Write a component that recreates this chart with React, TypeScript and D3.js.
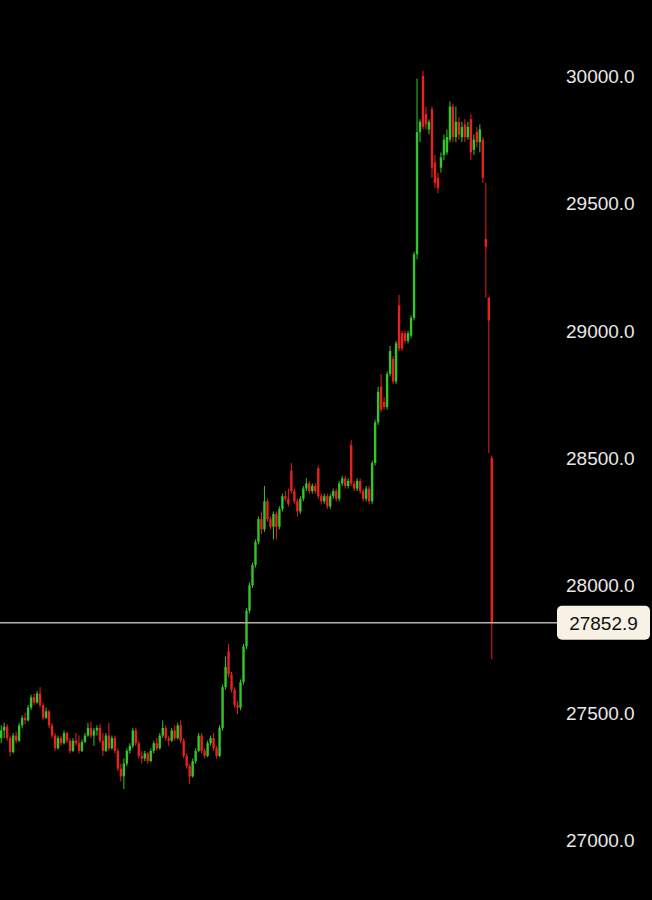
import React from "react";
import * as d3 from "d3";

// Candle data (oldest → newest)
const opens = [
  27400, 27430, 27445, 27400, 27345, 27410, 27390, 27450, 27480, 27470,
  27520, 27560, 27540, 27575, 27530, 27480, 27505, 27450, 27410, 27360,
  27400, 27380, 27420, 27390, 27350, 27390, 27380, 27350, 27385, 27410,
  27440, 27410, 27430, 27440, 27390, 27350, 27410, 27360, 27400, 27350,
  27280, 27250, 27300, 27350, 27370, 27430, 27380, 27330, 27320, 27340,
  27310, 27350, 27380, 27360, 27410, 27440, 27400, 27390, 27430, 27400,
  27450, 27390, 27330, 27290, 27250, 27310, 27350, 27410, 27350, 27330,
  27380, 27400, 27360, 27330, 27440, 27600, 27740, 27650, 27590, 27530,
  27520, 27620, 27760, 27900, 28000, 28080, 28170, 28260, 28220, 28330,
  28260, 28230, 28280, 28230, 28300, 28350, 28340, 28450, 28370, 28330,
  28290, 28340, 28380, 28400, 28370, 28390, 28460, 28350, 28330, 28350,
  28310, 28350, 28370, 28340, 28400, 28420, 28390, 28550, 28400, 28380,
  28410, 28370, 28340, 28380, 28330, 28480, 28640, 28780, 28720, 28700,
  28830, 28890, 28800, 29100, 28990, 28990, 28960, 28980, 29050, 29300,
  29780, 30000, 29850, 29790, 29870, 29660, 29600, 29640, 29690, 29700,
  29750, 29880, 29760, 29820, 29760, 29810, 29760, 29830, 29710, 29780,
  29740, 29750, 29360, 29130, 28500,
];
const highs = [
  27450, 27460, 27455, 27410, 27420, 27425, 27460, 27490, 27500, 27530,
  27570, 27575, 27585, 27600, 27540, 27520, 27510, 27460, 27420, 27410,
  27410, 27430, 27425, 27400, 27400, 27420, 27410, 27395, 27420, 27460,
  27465, 27440, 27450, 27455, 27420, 27420, 27460, 27410, 27410, 27360,
  27300, 27320, 27360, 27380, 27440, 27440, 27390, 27350, 27350, 27345,
  27360, 27390, 27400, 27420, 27470, 27450, 27410, 27440, 27450, 27460,
  27470, 27400, 27340, 27300, 27320, 27360, 27420, 27420, 27360, 27390,
  27410, 27420, 27370, 27450, 27610, 27720, 27770, 27660, 27600, 27545,
  27630, 27770, 27910, 28010, 28090, 28180, 28270, 28290, 28390, 28340,
  28270, 28290, 28290, 28310, 28360, 28370, 28380, 28480, 28380, 28340,
  28350, 28390, 28420, 28410, 28400, 28400, 28470, 28360, 28360, 28360,
  28360, 28380, 28380, 28410, 28430, 28430, 28420, 28570, 28410, 28420,
  28420, 28380, 28390, 28390, 28490, 28650, 28780, 28830, 28740, 28840,
  28940, 28900, 28960, 29140, 29000, 29000, 29000, 29060, 29310, 29990,
  29830, 30020, 29880, 29830, 29880, 29690, 29620, 29700, 29770, 29790,
  29900, 29890, 29880, 29840, 29820, 29830, 29820, 29850, 29770, 29800,
  29810, 29760, 29580, 29130, 28510,
];
const lows = [
  27380, 27400, 27390, 27330, 27340, 27380, 27385, 27440, 27455, 27465,
  27510, 27530, 27535, 27520, 27470, 27475, 27440, 27400, 27350, 27355,
  27370, 27375, 27380, 27340, 27345, 27370, 27340, 27345, 27380, 27405,
  27400, 27370, 27410, 27380, 27330, 27345, 27350, 27355, 27340, 27270,
  27230, 27200, 27290, 27340, 27360, 27370, 27320, 27300, 27310, 27300,
  27305, 27340, 27350, 27355, 27400, 27390, 27370, 27385, 27390, 27395,
  27380, 27320, 27280, 27220, 27245, 27300, 27345, 27340, 27320, 27325,
  27370, 27350, 27320, 27325, 27430, 27590, 27640, 27580, 27520, 27495,
  27510, 27610, 27750, 27890, 27990, 28070, 28160, 28200, 28210, 28250,
  28220, 28180, 28180, 28220, 28290, 28330, 28310, 28360, 28320, 28270,
  28280, 28330, 28370, 28360, 28360, 28360, 28340, 28320, 28320, 28300,
  28300, 28340, 28330, 28330, 28390, 28380, 28380, 28390, 28370, 28370,
  28360, 28330, 28330, 28320, 28320, 28470, 28630, 28680, 28690, 28690,
  28820, 28790, 28790, 28920, 28920, 28950, 28950, 28970, 29040, 29280,
  29740, 29790, 29790, 29770, 29600, 29560, 29540, 29620, 29670, 29690,
  29740, 29740, 29740, 29750, 29740, 29740, 29750, 29670, 29690, 29720,
  29700, 29580, 29130, 28520, 27710,
];
const closes = [
  27430, 27445, 27400, 27345, 27410, 27390, 27450, 27480, 27470, 27520,
  27560, 27540, 27575, 27530, 27480, 27505, 27450, 27410, 27360, 27400,
  27380, 27420, 27390, 27350, 27390, 27380, 27350, 27385, 27410, 27440,
  27410, 27430, 27440, 27390, 27350, 27410, 27360, 27400, 27350, 27280,
  27250, 27300, 27350, 27370, 27430, 27380, 27330, 27320, 27340, 27310,
  27350, 27380, 27360, 27410, 27440, 27400, 27390, 27430, 27400, 27450,
  27390, 27330, 27290, 27250, 27310, 27350, 27410, 27350, 27330, 27380,
  27400, 27360, 27330, 27440, 27600, 27680, 27650, 27590, 27530, 27520,
  27620, 27760, 27900, 28000, 28080, 28170, 28260, 28220, 28330, 28260,
  28230, 28280, 28230, 28300, 28350, 28340, 28320, 28370, 28330, 28290,
  28340, 28380, 28400, 28370, 28390, 28370, 28350, 28330, 28350, 28310,
  28350, 28370, 28340, 28400, 28420, 28390, 28410, 28400, 28380, 28410,
  28370, 28340, 28380, 28330, 28480, 28640, 28760, 28690, 28700, 28830,
  28920, 28800, 28950, 28930, 28930, 28960, 28990, 29050, 29300, 29780,
  29820, 29800, 29810, 29820, 29640, 29580, 29560, 29680, 29750, 29760,
  29880, 29760, 29820, 29770, 29800, 29760, 29800, 29700, 29750, 29740,
  29790, 29600, 29330, 29040, 27852.9,
];

const priceTicks = [30000, 29500, 29000, 28500, 28000, 27500, 27000];
const lastPrice = closes[closes.length - 1];

const WIDTH = 652;
const HEIGHT = 900;
const UP = "#34c52b";
const DOWN = "#e6221e";

export default function App() {
  const idx = d3.range(closes.length);
  const x = d3.scaleBand<number>().domain(idx).range([0, 493]).paddingInner(0.2);
  const y = d3.scaleLinear().domain([27000, 30000]).range([840, 76]);
  const bw = x.bandwidth();
  const fmt = d3.format(".1f");

  return (
    <div style={{ position: "fixed", left: 0, top: 0, width: WIDTH, height: HEIGHT, background: "#000" }}>
      <svg width={WIDTH} height={HEIGHT} style={{ display: "block" }}>
        <rect width={WIDTH} height={HEIGHT} fill="#000" />
        <g>
          {idx.map((i) => {
            const o = opens[i];
            const c = closes[i];
            const col = c >= o ? UP : DOWN;
            const cx = (x(i) as number) + bw / 2;
            const top = y(Math.max(o, c));
            const h = Math.max(1, Math.abs(y(o) - y(c)));
            return (
              <g key={i}>
                <line x1={cx} x2={cx} y1={y(highs[i])} y2={y(lows[i])} stroke={col} strokeWidth={1} />
                <rect x={x(i) as number} y={top} width={bw} height={h} fill={col} />
              </g>
            );
          })}
        </g>
        <line x1={0} x2={557} y1={y(lastPrice)} y2={y(lastPrice)} stroke="#b9b0ab" strokeWidth={1.5} />
        <g fontFamily="'Liberation Sans', Arial, Helvetica, sans-serif" fontSize={19}>
          {priceTicks.map((t) => (
            <text key={t} x={566} y={y(t)} dy="0.36em" fill="#e8e8e8">
              {fmt(t)}
            </text>
          ))}
          <rect x={557} y={y(lastPrice) - 17} width={93} height={34} rx={5} fill="#f8f2e6" />
          <text x={603.5} y={y(lastPrice)} dy="0.36em" textAnchor="middle" fill="#111">
            {fmt(lastPrice)}
          </text>
        </g>
      </svg>
    </div>
  );
}
